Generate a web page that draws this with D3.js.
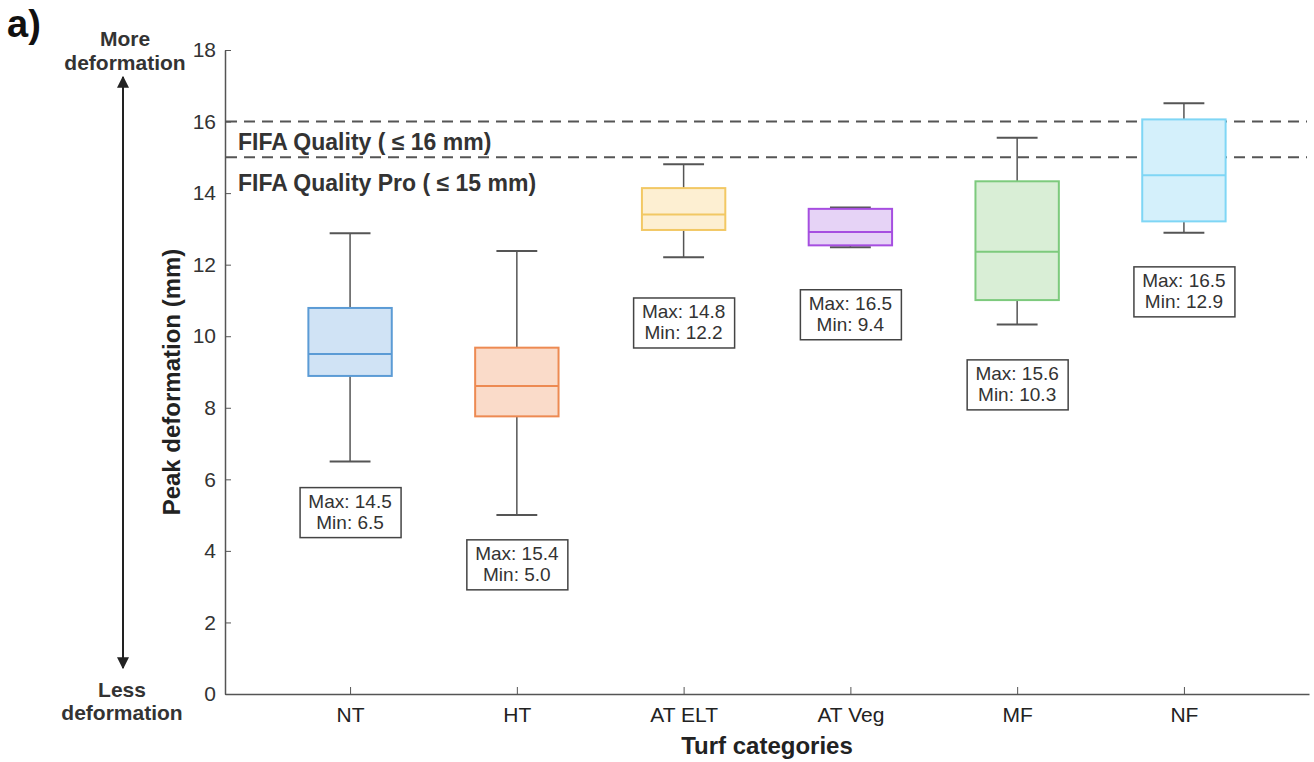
<!DOCTYPE html>
<html><head><meta charset="utf-8">
<script src="https://cdn.jsdelivr.net/npm/d3@7"></script>
<style>body{margin:0;background:#fff}svg{display:block;font-family:"Liberation Sans",Arial,sans-serif}</style>
</head><body><svg id="c" width="1314" height="762"></svg>
<script>
const categories = ["NT","HT","AT ELT","AT Veg","MF","NF"];
const whiskerLow  = [6.5, 5.0, 12.21, 12.49, 10.33, 12.89];
const q1          = [8.89, 7.76, 12.97, 12.54, 11.01, 13.21];
const median      = [9.50, 8.61, 13.40, 12.91, 12.36, 14.50];
const q3          = [10.79, 9.68, 14.14, 13.56, 14.33, 16.06];
const whiskerHigh = [12.88, 12.38, 14.81, 13.60, 15.55, 16.51];
const annotMax = ["14.5","15.4","14.8","16.5","15.6","16.5"];
const annotMin = ["6.5","5.0","12.2","9.4","10.3","12.9"];
const annotY = [5.07, 3.61, 10.37, 10.60, 8.64, 11.24];
const strokeColors = ["#5b9bd5","#ed8a52","#f2c864","#a64ee0","#7dca7d","#7fd6f5"];
const fillColors = ["#d0e3f5","#fadbc9","#fdefd2","#e6d3f6","#d9eed6","#d4f0fb"];
const yTicks = [0,2,4,6,8,10,12,14,16,18];
const thresholds = [16, 15];
const thresholdLabels = ["FIFA Quality ( \u2264 16 mm)", "FIFA Quality Pro ( \u2264 15 mm)"];

const svg = d3.select("#c");
const x = d3.scaleLinear().domain([0.25, 6.75]).range([225, 1309]);
const y = d3.scaleLinear().domain([0, 18]).range([694, 50]);
const axisCol = "#555";

// axes
const yAx = svg.append("g").attr("transform","translate(225,0)")
  .call(d3.axisLeft(y).tickValues(yTicks).tickSizeInner(-6).tickSizeOuter(0).tickPadding(9));
yAx.select(".domain").attr("stroke",axisCol).attr("stroke-width",1.5);
yAx.selectAll(".tick line").attr("stroke",axisCol);
yAx.selectAll("text").attr("font-size",21).attr("fill","#333");

const xAx = svg.append("g").attr("transform","translate(0,694)")
  .call(d3.axisBottom(x).tickValues(d3.range(1,7)).tickFormat((d,i)=>categories[i]).tickSizeInner(-7).tickSizeOuter(0).tickPadding(13));
xAx.select(".domain").attr("stroke",axisCol).attr("stroke-width",1.5);
xAx.selectAll(".tick line").attr("stroke",axisCol);
xAx.selectAll("text").attr("font-size",21).attr("fill","#222");

// threshold lines
svg.selectAll(".thr").data(thresholds).enter().append("line")
  .attr("x1",226).attr("x2",1307).attr("y1",d=>y(d)).attr("y2",d=>y(d))
  .attr("stroke","#555").attr("stroke-width",2).attr("stroke-dasharray","11,7");
svg.append("text").attr("x",238).attr("y",y(16)+28).attr("font-size",23).attr("font-weight","bold").attr("fill","#333").text(thresholdLabels[0]);
svg.append("text").attr("x",238).attr("y",y(15)+34).attr("font-size",23).attr("font-weight","bold").attr("fill","#333").text(thresholdLabels[1]);

// boxes
const bw = 0.5, cw = 0.245;
categories.forEach((c,i)=>{
  const cx = x(i+1);
  const g = svg.append("g");
  const half = (x(bw)-x(0))/2, chalf = (x(cw)-x(0))/2;
  g.append("line").attr("x1",cx).attr("x2",cx).attr("y1",y(whiskerHigh[i])).attr("y2",y(q3[i])).attr("stroke","#555").attr("stroke-width",1.5);
  g.append("line").attr("x1",cx).attr("x2",cx).attr("y1",y(q1[i])).attr("y2",y(whiskerLow[i])).attr("stroke","#555").attr("stroke-width",1.5);
  g.append("line").attr("x1",cx-chalf).attr("x2",cx+chalf).attr("y1",y(whiskerHigh[i])).attr("y2",y(whiskerHigh[i])).attr("stroke","#555").attr("stroke-width",2);
  g.append("line").attr("x1",cx-chalf).attr("x2",cx+chalf).attr("y1",y(whiskerLow[i])).attr("y2",y(whiskerLow[i])).attr("stroke","#555").attr("stroke-width",2);
  g.append("rect").attr("x",cx-half).attr("width",2*half).attr("y",y(q3[i])).attr("height",y(q1[i])-y(q3[i]))
    .attr("fill",fillColors[i]).attr("stroke",strokeColors[i]).attr("stroke-width",2);
  g.append("line").attr("x1",cx-half).attr("x2",cx+half).attr("y1",y(median[i])).attr("y2",y(median[i])).attr("stroke",strokeColors[i]).attr("stroke-width",2);
  // annotation
  const ay = y(annotY[i]);
  g.append("rect").attr("x",cx-50).attr("width",101).attr("y",ay-25).attr("height",50)
    .attr("fill","#fff").attr("stroke","#444").attr("stroke-width",1.5);
  g.append("text").attr("x",cx).attr("y",ay-5).attr("text-anchor","middle").attr("font-size",19).attr("fill","#333").text("Max: "+annotMax[i]);
  g.append("text").attr("x",cx).attr("y",ay+16).attr("text-anchor","middle").attr("font-size",19).attr("fill","#333").text("Min: "+annotMin[i]);
});

// axis titles
svg.append("text").attr("transform","translate(180,382) rotate(-90)").attr("text-anchor","middle")
  .attr("font-size",24).attr("font-weight","bold").attr("fill","#222").text("Peak deformation (mm)");
svg.append("text").attr("x",767).attr("y",754).attr("text-anchor","middle")
  .attr("font-size",24).attr("font-weight","bold").attr("fill","#222").text("Turf categories");

// panel label
svg.append("text").attr("x",7).attr("y",37).attr("font-size",38).attr("font-weight","bold").attr("fill","#111").text("a)");
svg.append("text").attr("x",4).attr("y",790).attr("font-size",38).attr("font-weight","bold").attr("fill","#111").text("b)");

// more/less deformation
const side = svg.append("g").attr("font-size",21).attr("font-weight","bold").attr("fill","#333").attr("text-anchor","middle");
side.append("text").attr("x",125).attr("y",46).text("More");
side.append("text").attr("x",125).attr("y",70).text("deformation");
side.append("text").attr("x",122).attr("y",697).text("Less");
side.append("text").attr("x",122).attr("y",720).text("deformation");
svg.append("defs").append("marker").attr("id","ah").attr("viewBox","0 0 10 10").attr("refX",9).attr("refY",5)
  .attr("markerWidth",6).attr("markerHeight",6).attr("orient","auto-start-reverse")
  .append("path").attr("d","M0,0 L10,5 L0,10 Z").attr("fill","#222");
svg.append("line").attr("x1",123).attr("x2",123).attr("y1",77).attr("y2",668)
  .attr("stroke","#222").attr("stroke-width",2).attr("marker-start","url(#ah)").attr("marker-end","url(#ah)");
</script></body></html>
